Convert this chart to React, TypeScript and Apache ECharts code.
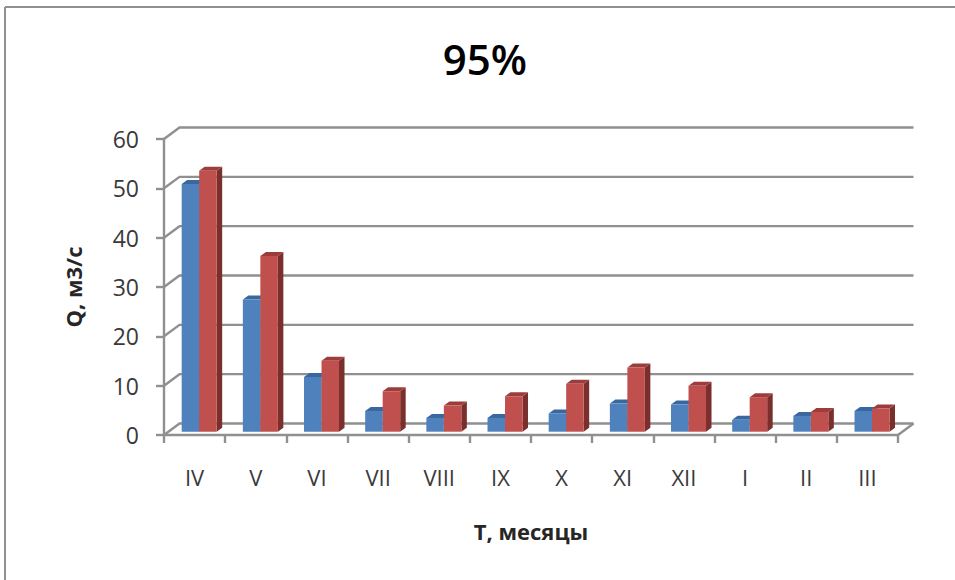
import React, { useEffect, useRef } from "react";
import * as echarts from "echarts";

const months = ["IV", "V", "VI", "VII", "VIII", "IX", "X", "XI", "XII", "I", "II", "III"];
const seriesA = [50.2, 26.8, 11.1, 4.2, 2.8, 2.8, 3.7, 5.7, 5.5, 2.4, 3.2, 4.2];
const seriesB = [52.9, 35.6, 14.4, 8.2, 5.3, 7.2, 9.7, 13.0, 9.3, 7.0, 4.0, 4.7];
const yTicks = [0, 10, 20, 30, 40, 50, 60];

const LINE = "#909090";
const LINE_W = 2.4;
const TEXT = "#3a3a3a";
const FONT = "Open Sans";

// Pseudo-3D offsets: wall depth behind the axis plane, bar plane shift, bar thickness.
const WALL_DX = 15.5;
const WALL_DY = -11.5;
const PLANE_DX = 4.6;
const PLANE_DY = -3.3;
const DEPTH_DX = 5.5;
const DEPTH_DY = -4;
const BAR_W = 17.5;

function wallRenderer(params: any, api: any) {
  const v = api.value(0);
  const slot = api.size([1, 0])[0];
  const left = api.coord([0, v]);
  const right = api.coord([months.length - 1, v]);
  const x0 = left[0] - slot / 2;
  const x1 = right[0] + slot / 2;
  const y = left[1];
  const style = { stroke: LINE, lineWidth: LINE_W, fill: "none" };
  const children: any[] = [
    {
      type: "polyline",
      shape: { points: [[x0, y], [x0 + WALL_DX, y + WALL_DY], [x1 + WALL_DX, y + WALL_DY]] },
      style,
    },
  ];
  if (v === 0) {
    children.push({
      type: "line",
      shape: { x1: x1 + WALL_DX, y1: y + WALL_DY, x2: x1, y2: y },
      style,
    });
  }
  return { type: "group", children };
}

function barRenderer(side: number, face: string, top: string, edge: string) {
  return (params: any, api: any) => {
    const cat = api.value(0);
    const base = api.coord([cat, 0]);
    const head = api.coord([cat, api.value(1)]);
    const x0 = base[0] + PLANE_DX + (side === 0 ? -BAR_W : 0);
    const x1 = x0 + BAR_W;
    const yb = base[1] + PLANE_DY;
    const yt = head[1] + PLANE_DY;
    return {
      type: "group",
      children: [
        {
          type: "polygon",
          shape: {
            points: [[x1, yb], [x1 + DEPTH_DX, yb + DEPTH_DY], [x1 + DEPTH_DX, yt + DEPTH_DY], [x1, yt]],
          },
          style: { fill: edge },
        },
        {
          type: "polygon",
          shape: {
            points: [[x0, yt], [x0 + DEPTH_DX, yt + DEPTH_DY], [x1 + DEPTH_DX, yt + DEPTH_DY], [x1, yt]],
          },
          style: { fill: top },
        },
        {
          type: "rect",
          shape: { x: x0, y: yt, width: BAR_W, height: yb - yt },
          style: { fill: face },
        },
      ],
    };
  };
}

export default function App() {
  const ref = useRef<HTMLDivElement>(null);

  useEffect(() => {
    const chart = echarts.init(ref.current!, null, { renderer: "svg" });
    chart.setOption({
      animation: false,
      backgroundColor: "#ffffff",
      title: {
        text: "95%",
        left: 480,
        top: 32,
        textAlign: "center",
        textStyle: { fontFamily: FONT, fontWeight: 600, fontSize: 42, color: "#000000" },
      },
      grid: { left: 164, right: 57, top: 139, bottom: 145 },
      xAxis: {
        type: "category",
        data: months,
        name: "T, месяцы",
        nameLocation: "middle",
        nameGap: 85,
        nameTextStyle: { fontFamily: FONT, fontWeight: "bold", fontSize: 22, color: "#262626" },
        axisLine: { lineStyle: { color: LINE, width: LINE_W } },
        axisTick: { show: true, length: 8, lineStyle: { color: LINE, width: LINE_W } },
        axisLabel: { margin: 31, fontFamily: FONT, fontSize: 22, color: TEXT },
      },
      yAxis: {
        type: "value",
        min: 0,
        max: 60,
        interval: 10,
        name: "Q, м3/с",
        nameLocation: "middle",
        nameGap: 80,
        nameTextStyle: { fontFamily: FONT, fontWeight: "bold", fontSize: 22, color: "#262626" },
        splitLine: { show: false },
        axisLine: { show: true, lineStyle: { color: LINE, width: LINE_W } },
        axisTick: { show: true, length: 8, lineStyle: { color: LINE, width: LINE_W } },
        axisLabel: { margin: 25, fontFamily: FONT, fontSize: 23, color: TEXT },
      },
      graphic: [
        { type: "line", shape: { x1: 5, y1: 7, x2: 955, y2: 7 }, style: { stroke: LINE, lineWidth: 2 } },
        { type: "line", shape: { x1: 5, y1: 7, x2: 5, y2: 580 }, style: { stroke: LINE, lineWidth: 2 } },
      ],
      series: [
        {
          type: "custom",
          renderItem: wallRenderer,
          data: yTicks.map((v) => [v]),
          encode: { y: 0 },
          silent: true,
        },
        {
          type: "custom",
          renderItem: barRenderer(0, "#4f81bd", "#38689f", "#38689f"),
          data: seriesA.map((v, i) => [i, v]),
          encode: { x: 0, y: 1 },
        },
        {
          type: "custom",
          renderItem: barRenderer(1, "#c0504d", "#9c3d3b", "#7a2f2d"),
          data: seriesB.map((v, i) => [i, v]),
          encode: { x: 0, y: 1 },
        },
      ],
    });
    return () => chart.dispose();
  }, []);

  return <div ref={ref} style={{ position: "absolute", left: 0, top: 0, width: 955, height: 580 }} />;
}
